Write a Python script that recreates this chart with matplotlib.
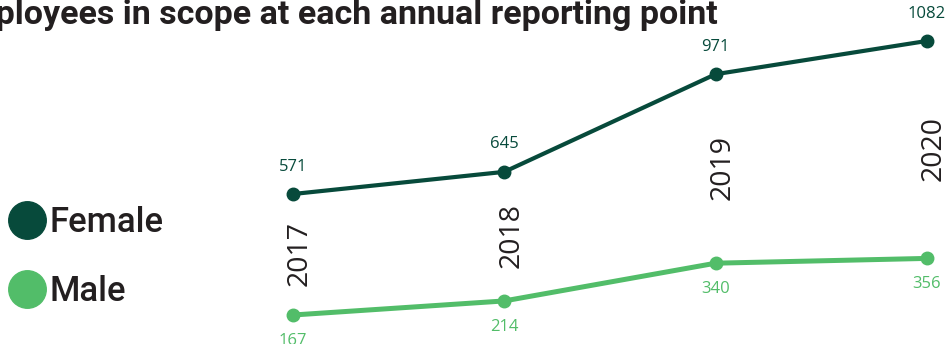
import matplotlib.pyplot as plt
from matplotlib.lines import Line2D

years = [2017, 2018, 2019, 2020]
female = [571, 645, 971, 1082]
male = [167, 214, 340, 356]
series_names = ['Female', 'Male']
title = 'Employees in scope at each annual reporting point'

female_color = '#074a3b'
male_color = '#52bd69'
text_color = '#231f20'

fig = plt.figure(figsize=(9.49, 3.44), dpi=100)
ax = fig.add_axes([0, 0, 1, 1])
ax.set_xlim(2015.613, 2020.105)
ax.set_ylim(70.2, 1218.8)
ax.axis('off')

ax.plot(years, female, color=female_color, lw=3, marker='o', ms=9, solid_capstyle='round')
ax.plot(years, male, color=male_color, lw=3.6, marker='o', ms=9, solid_capstyle='round')

for x, f, m in zip(years, female, male):
    ax.annotate(str(f), (x, f), xytext=(0, 14), textcoords='offset points',
                ha='center', va='bottom', fontsize=12, color=female_color, family='Open Sans')
    ax.annotate(str(m), (x, m), xytext=(0, -13), textcoords='offset points',
                ha='center', va='top', fontsize=12, color=male_color, family='Open Sans')
    ax.annotate(str(x), (x, (f + m) / 2), xytext=(5, 1), textcoords='offset points',
                ha='center', va='center', rotation=90, fontsize=20.5, color=text_color,
                family='Open Sans')

fig.text(718 / 949, 1 - 15 / 344, title, ha='right', va='center', fontsize=24.5,
         fontweight='bold', family='Roboto', color=text_color)

handles = [Line2D([], [], ls='none', marker='o', ms=27, color=c) for c in (female_color, male_color)]
leg = fig.legend(handles, series_names, loc='center left', bbox_to_anchor=(-0.023, 1 - 257 / 344),
                 frameon=False, handlelength=1.0, handletextpad=0.15, labelspacing=1.05,
                 prop={'family': 'Roboto', 'size': 25, 'weight': 'medium'})
for t in leg.get_texts():
    t.set_color(text_color)

fig.savefig('out.png', dpi=100)
